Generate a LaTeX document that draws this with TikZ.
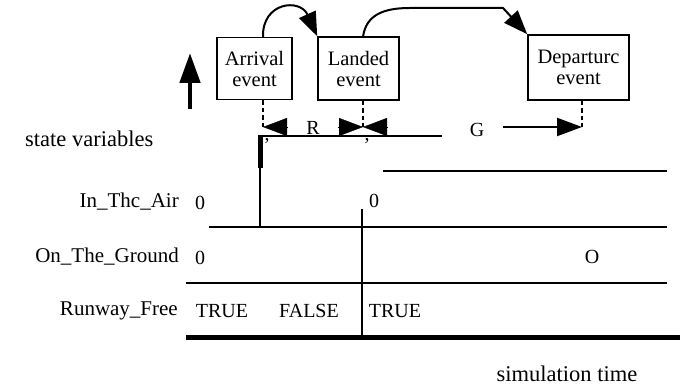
\documentclass[tikz,border=0pt]{standalone}
\usepackage{fontspec}
\setmainfont{Liberation Serif}
\usetikzlibrary{arrows.meta,calc}
\begin{document}
\begin{tikzpicture}[x=1pt,y=-1pt,
  lbl/.style={inner sep=0pt,font=\fontsize{21}{21}\selectfont},
  val/.style={inner sep=0pt,font=\fontsize{20}{20}\selectfont},
  wide/.style={inner sep=0pt,font=\fontsize{22.5}{22.5}\selectfont},
  evbox/.style={draw,line width=1.6pt,inner sep=0pt,align=center,
    font=\fontsize{20.5}{21}\selectfont},
  rule/.style={line width=2.4pt},
  heavy/.style={line width=5pt},
  guide/.style={line width=2.2pt,dash pattern=on 4.5pt off 3pt},
  bigtip/.style={-{Triangle[length=24pt,width=18pt]}},
  flowtip/.style={line width=2pt,-{Triangle[length=24pt,width=18pt]}}]
\useasboundingbox (0,0) rectangle (680,387);

% event boxes
\node[evbox,minimum width=75pt,minimum height=62pt] (arr) at (254.5,68.5) {Arrival\\event};
\node[evbox,minimum width=81pt,minimum height=63pt] (lan) at (358.5,68.5) {Landed\\event};
\node[evbox,minimum width=101pt,minimum height=65pt] (dep) at (578.5,67.5) {Departurc\\event};

% upward arrow for the state axis
\coordinate (upA) at (190,109);
\coordinate (upB) at (190,53);
\draw[line width=4.8pt,-{Triangle[length=30pt,width=20pt]}] (upA) -- (upB);

% scheduling arcs between events
\coordinate (arrTop) at (263,37);
\coordinate (lanTop) at (363,37);
\draw[flowtip] (arrTop) .. controls (262,2) and (300,-2) .. (lan.north west);
\coordinate (bendA) at (410,8);
\coordinate (bendB) at (503,8);
\draw[flowtip] (lanTop) .. controls (366,14) and (385,8) .. (bendA) -- (bendB) -- (dep.north west);

% dashed drop lines from events to the time axis
\coordinate (tA) at (263,127);
\coordinate (tL) at (363,127);
\coordinate (tD) at (582,127);
\draw[guide] (arr.south -| tA) -- (tA);
\draw[guide] (lan.south -| tL) -- (tL);
\draw[guide] (dep.south -| tD) -- (tD);

% interval markers R and G
\draw[bigtip] ($(tA)+(25,0)$) -- (tA);
\draw[bigtip] ($(tL)+(-25,0)$) -- (tL);
\draw[bigtip] ($(tL)+(25,0)$) -- (tL);
\coordinate (gStart) at (503,127);
\draw[line width=2.2pt,-{Triangle[length=25pt,width=18pt]}] (gStart) -- (tD);
\node[val] (rlab) at (313,128) {R};
\node[val] (glab) at (477,130) {G};

% state traces
\coordinate (s1) at (258,136);
\coordinate (s2) at (442,136);
\draw[rule] (s1) -- (s2);
\node[val] (c1) at (267,141) {,};
\node[val] (c2) at (367,141) {,};
\coordinate (v1a) at (260,136);
\coordinate (v1b) at (260,168);
\coordinate (v1c) at (260,228);
\draw[line width=5pt] (v1a) -- (v1b);
\draw[rule] (v1b) -- (v1c);
\coordinate (h1a) at (383,171);
\coordinate (h1b) at (667,171);
\draw[rule] (h1a) -- (h1b);
\coordinate (h2a) at (209,227);
\coordinate (h2b) at (667,227);
\draw[rule] (h2a) -- (h2b);
\coordinate (v2a) at (362,209);
\coordinate (v2b) at (362,340);
\draw[line width=2.9pt] (v2a) -- (v2b);
\coordinate (h3a) at (186,283);
\coordinate (h3b) at (667,283);
\draw[rule] (h3a) -- (h3b);
\coordinate (h4a) at (186,337.5);
\coordinate (h4b) at (680,337.5);
\draw[heavy] (h4a) -- (h4b);

% row labels and values
\node[wide,anchor=west] (sv) at (25,139) {state variables};
\node[lbl,anchor=east] (ita) at (179,202) {In\_Thc\_Air};
\node[val] (ita0) at (200,203) {0};
\node[val] (ita1) at (374,201) {0};
\node[lbl,anchor=east] (otg) at (179,257) {On\_The\_Ground};
\node[val] (otg0) at (200,258) {0};
\node[val] (otg1) at (592,257) {O};
\node[lbl,anchor=east] (rf) at (178,311) {Runway\_Free};
\node[val] (rf0) at (222,311) {TRUE};
\node[val] (rf1) at (309,311) {FALSE};
\node[val] (rf2) at (395,311) {TRUE};
\node[wide] (simt) at (567,374) {simulation time};
\end{tikzpicture}
\end{document}
